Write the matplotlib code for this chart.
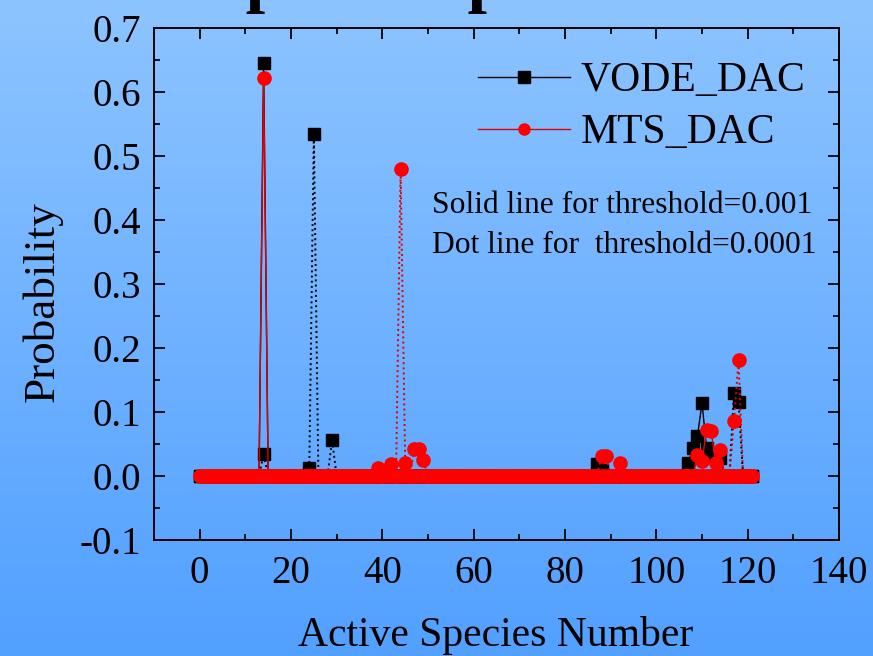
import numpy as np
import matplotlib
matplotlib.use("Agg")
import matplotlib.pyplot as plt
from matplotlib.ticker import MultipleLocator
from matplotlib.colors import LinearSegmentedColormap

plt.rcParams['font.family'] = ['Liberation Serif', 'DejaVu Serif']

# Active species numbers 0..121
species = list(range(122))

def sparse(values):
    arr = [0.0] * len(species)
    for k, v in values.items():
        arr[k] = v
    return arr

# VODE_DAC, threshold = 0.001 (solid)
vode_solid_peaks = {14: 0.645, 87: 0.019, 88: 0.01, 107: 0.02, 108: 0.044,
                    109: 0.062, 110: 0.114, 111: 0.044, 112: 0.03, 114: 0.028}
# VODE_DAC, threshold = 0.0001 (dotted)
vode_dot_peaks = {14: 0.034, 24: 0.012, 25: 0.534, 29: 0.056,
                  117: 0.13, 118: 0.116}
# MTS_DAC, threshold = 0.001 (solid)
mts_solid_peaks = {14: 0.622, 109: 0.033, 110: 0.023, 111: 0.072,
                   112: 0.07, 113: 0.02, 114: 0.04}
# MTS_DAC, threshold = 0.0001 (dotted)
mts_dot_peaks = {39: 0.013, 41: 0.01, 42: 0.019, 44: 0.48, 45: 0.02,
                 47: 0.042, 48: 0.042, 49: 0.025, 88: 0.031, 89: 0.031,
                 92: 0.02, 117: 0.086, 118: 0.181}

vode_solid = sparse(vode_solid_peaks)
vode_dot = sparse(vode_dot_peaks)
mts_solid = sparse(mts_solid_peaks)
mts_dot = sparse(mts_dot_peaks)

W, H = 873, 656
fig = plt.figure(figsize=(W / 100, H / 100), dpi=100)

# background gradient
bg = fig.add_axes([0, 0, 1, 1], zorder=-10)
cmap = LinearSegmentedColormap.from_list('bg', ['#8DC4FF', '#52A0FF'])
grad = np.linspace(0, 1, 256).reshape(-1, 1)
bg.imshow(grad, aspect='auto', cmap=cmap, extent=[0, 1, 0, 1], origin='upper')
bg.set_axis_off()

ax = fig.add_axes([154 / W, 1 - 540 / H, (839 - 154) / W, (540 - 28) / H])
ax.patch.set_alpha(0)

ax.plot(species, vode_solid, '-', color='black', lw=1.0, marker='s', ms=8,
        mec='black', mfc='black', label='VODE_DAC', zorder=3)
ax.plot(species, vode_dot, ':', color='black', lw=1.4, marker='s', ms=8,
        mec='black', mfc='black', zorder=3)
ax.plot(species, mts_solid, '-', color='#E00000', lw=1.0, marker='o', ms=9.5,
        mec='red', mfc='red', label='MTS_DAC', zorder=4)
ax.plot(species, mts_dot, ':', color='#E00000', lw=1.4, marker='o', ms=9.5,
        mec='red', mfc='red', zorder=4)

ax.set_xlim(-10, 140)
ax.set_ylim(-0.1, 0.7)
ax.xaxis.set_major_locator(MultipleLocator(20))
ax.xaxis.set_minor_locator(MultipleLocator(10))
ax.yaxis.set_major_locator(MultipleLocator(0.1))
ax.yaxis.set_minor_locator(MultipleLocator(0.05))
ax.yaxis.set_major_formatter(plt.FuncFormatter(lambda v, p: f"{v:.1f}"))

for s in ax.spines.values():
    s.set_linewidth(1.4)
ax.tick_params(which='both', direction='in', top=True, right=True, width=1.3)
ax.tick_params(which='major', length=8, labelsize=28)
ax.tick_params(which='minor', length=4)
ax.tick_params(axis='y', pad=9)
ax.tick_params(axis='x', pad=11)

ax.set_xlabel('Active Species Number', fontsize=30)
ax.set_ylabel('Probability', fontsize=32.5)
ax.xaxis.set_label_coords(0.498, -0.148)
ax.yaxis.set_label_coords(-0.134, 0.465)

leg = ax.legend(loc='upper right', bbox_to_anchor=(805 / W, 1 - 62 / H),
                bbox_transform=fig.transFigure, frameon=False, fontsize=30,
                handlelength=2.2, handletextpad=0.25, labelspacing=0.32,
                borderpad=0, borderaxespad=0)
for h in leg.legend_handles:
    h.set_markersize(8)

fig.text(432 / W, 1 - 206 / H, 'Solid line for threshold=0.001', fontsize=22.7,
         ha='left', va='center')
fig.text(432 / W, 1 - 245 / H, 'Dot line for  threshold=0.0001', fontsize=22.7,
         ha='left', va='center')

fig.text(405 / W, 1 + 1 / H, 'Species space', fontsize=50, fontweight='bold',
         ha='center', va='baseline')

fig.savefig('out.png', dpi=100)
